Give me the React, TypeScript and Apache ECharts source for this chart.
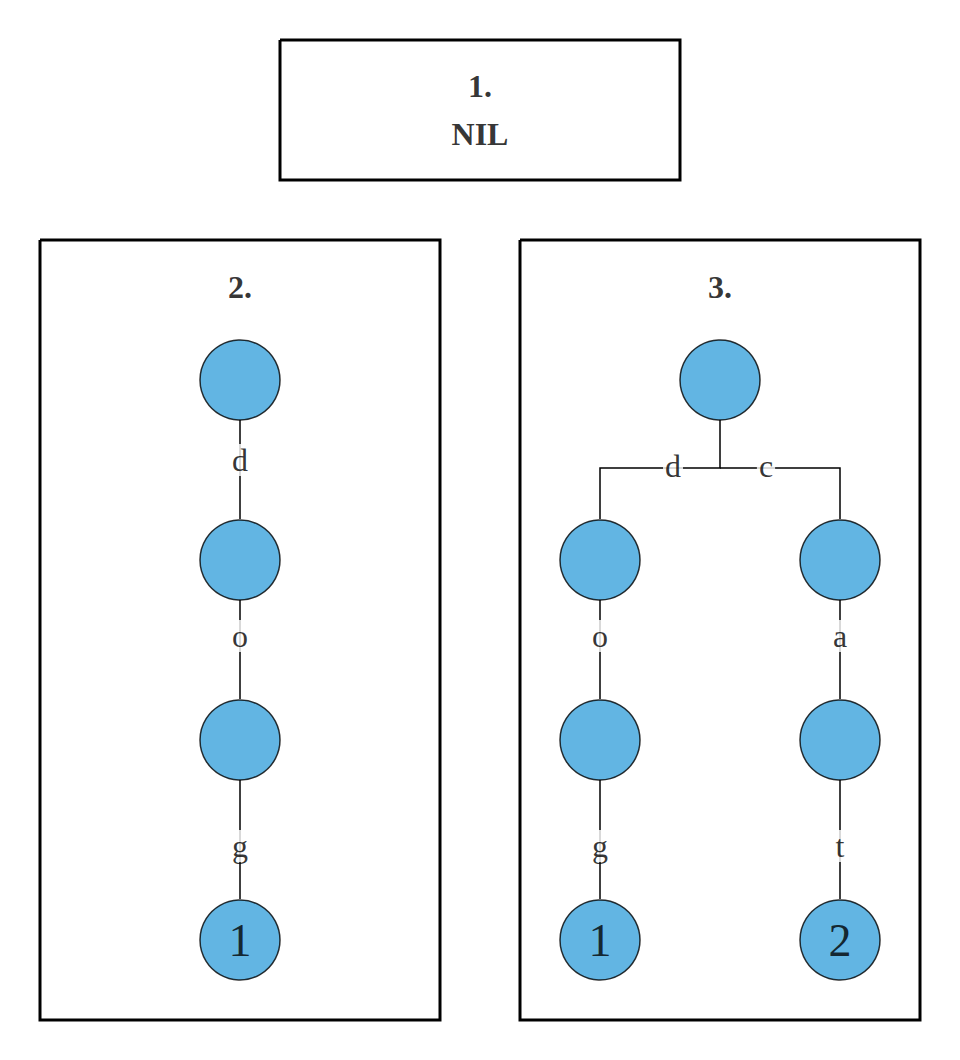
import React, { useEffect, useRef } from 'react';
import * as echarts from 'echarts';

// node positions (px in a 960x1060 plane) and node labels
const nodes: [number, number, string][] = [
	[240, 380, ''], [240, 560, ''], [240, 740, ''], [240, 940, '1'],
	[720, 380, ''],
	[600, 560, ''], [600, 740, ''], [600, 940, '1'],
	[840, 560, ''], [840, 740, ''], [840, 940, '2'],
];

const edges: [number, number][][] = [
	[[240, 420], [240, 519]],
	[[240, 600], [240, 699]],
	[[240, 780], [240, 899]],
	[[720, 420], [720, 468], [600, 468], [600, 519]],
	[[720, 468], [840, 468], [840, 519]],
	[[600, 600], [600, 699]],
	[[600, 780], [600, 899]],
	[[840, 600], [840, 699]],
	[[840, 780], [840, 899]],
];

const edgeLabels: [number, number, string][] = [
	[240, 460, 'd'], [240, 636, 'o'], [240, 846, 'g'],
	[673, 466, 'd'], [766, 466, 'c'],
	[600, 636, 'o'], [600, 846, 'g'],
	[840, 636, 'a'], [840, 846, 't'],
];

const boxes: [number, number, number, number][] = [
	[280, 40, 680, 180],
	[40, 240, 440, 1020],
	[520, 240, 920, 1020],
];

const titles: [number, number, string][] = [
	[480, 86, '1.'], [480, 134, 'NIL'], [240, 287, '2.'], [720, 287, '3.'],
];

const App: React.FC = () => {
	const ref = useRef<HTMLDivElement | null>(null);

	useEffect(() => {
		document.body.style.margin = '0';
		if (!ref.current) return;
		const chart = echarts.init(ref.current, null, { renderer: 'svg' });
		const font = '"Liberation Serif", serif';
		chart.setOption({
			animation: false,
			grid: { left: 0, right: 0, top: 0, bottom: 0 },
			xAxis: { type: 'value', min: 0, max: 960, show: false },
			yAxis: { type: 'value', min: 0, max: 1060, inverse: true, show: false },
			series: [
				{
					type: 'lines',
					coordinateSystem: 'cartesian2d',
					polyline: true,
					silent: true,
					lineStyle: { color: '#000', width: 3, opacity: 1 },
					data: boxes.map(([x0, y0, x1, y1]) => ({
						coords: [[x0, y0], [x1, y0], [x1, y1], [x0, y1], [x0, y0]],
					})),
				},
				{
					type: 'lines',
					coordinateSystem: 'cartesian2d',
					polyline: true,
					symbol: ['none', 'arrow'],
					symbolSize: 12,
					lineStyle: { color: '#000', width: 1.5, opacity: 1 },
					data: edges.map((c) => ({ coords: c })),
				},
				{
					type: 'scatter',
					symbolSize: 1,
					itemStyle: { color: 'transparent' },
					label: {
						show: true,
						position: 'inside',
						formatter: (p: any) => p.value[2],
						fontFamily: font,
						fontSize: 32,
						color: '#000',
						backgroundColor: '#fff',
						padding: [0, 2],
					},
					data: edgeLabels,
				},
				{
					type: 'scatter',
					symbolSize: 80,
					itemStyle: { color: '#3ba3dc', borderColor: '#000', borderWidth: 1.5 },
					label: {
						show: true,
						position: 'inside',
						formatter: (p: any) => p.value[2],
						fontFamily: font,
						fontSize: 46,
						color: '#000',
					},
					data: nodes,
				},
				{
					type: 'scatter',
					symbolSize: 1,
					itemStyle: { color: 'transparent' },
					label: {
						show: true,
						position: 'inside',
						formatter: (p: any) => p.value[2],
						fontFamily: font,
						fontWeight: 'bold',
						fontSize: 32,
						color: '#000',
					},
					data: titles,
				},
			],
		});
		return () => chart.dispose();
	}, []);

	return <div ref={ref} style={{ width: '960px', height: '1060px' }} />;
};

export default App;
